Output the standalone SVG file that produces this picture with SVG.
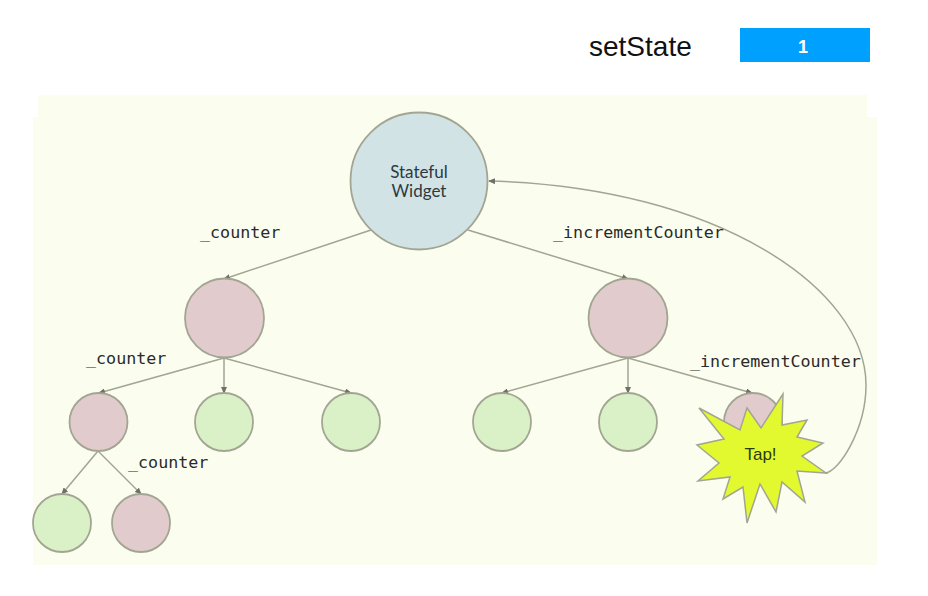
<svg xmlns="http://www.w3.org/2000/svg" width="928" height="596" viewBox="0 0 928 596">
<style>
.n{stroke:#a3a593;stroke-width:1.800}
.r{fill:#e2cbcd}.g{fill:#daf1c8}
.c{fill:none;stroke:#a3a593;stroke-width:1.500}
.m{font-family:"DejaVu Sans Mono","Liberation Mono",monospace;font-size:16.700px;fill:#2a2a2a}
.l{font-family:Lato,"Liberation Sans",sans-serif;fill:#2c3a40;text-anchor:middle}
</style>
<defs><marker id="a" markerWidth="7" markerHeight="6" refX="6" refY="3" orient="auto" markerUnits="userSpaceOnUse"><path d="M0 0L7 3L0 6Z" fill="#6f7166"/></marker></defs>
<rect width="928" height="596" fill="#fff"/>
<path d="M38 95H867V117H877V565H33V117H38Z" fill="#fbfeef"/>
<g id="setstate">
<text x="589" y="56" font-family="Liberation Sans,sans-serif" font-size="28" fill="#111">setState</text>
<rect x="740" y="28" width="130" height="34" fill="#00a0ff"/>
<text x="803" y="53" font-family="Liberation Sans,sans-serif" font-size="18" font-weight="bold" fill="#fff" text-anchor="middle">1</text>
</g>
<g id="connectors">
<path class="c" marker-end="url(#a)" d="M371 230L224 279"/>
<path class="c" marker-end="url(#a)" d="M468 230L628 279"/>
<path class="c" marker-end="url(#a)" d="M224 358L99 393"/>
<path class="c" marker-end="url(#a)" d="M224 358V393"/>
<path class="c" marker-end="url(#a)" d="M224 358L351 393"/>
<path class="c" marker-end="url(#a)" d="M628 358L502 393"/>
<path class="c" marker-end="url(#a)" d="M628 358V393"/>
<path class="c" marker-end="url(#a)" d="M628 358L752 393"/>
<path class="c" marker-end="url(#a)" d="M98 451L62 494"/>
<path class="c" marker-end="url(#a)" d="M98 451L141 494"/>
<path class="c" marker-end="url(#a)" d="M825 473C838 473 866 430 866 385C866 290 720 187 489 181"/>
</g>
<g id="n-root"><circle class="n" cx="419" cy="181" r="68.500" fill="#d2e3e5"/><text class="l" x="419" y="178" font-size="17">Stateful</text><text class="l" x="419" y="197" font-size="17">Widget</text></g>
<g id="n-left"><circle class="n r" cx="224.500" cy="318" r="39.500"/></g>
<g id="n-right"><circle class="n r" cx="628" cy="318" r="39.500"/></g>
<g id="n-l1"><circle class="n r" cx="98.500" cy="422" r="29"/></g>
<g id="n-l2"><circle class="n g" cx="224" cy="422" r="29"/></g>
<g id="n-l3"><circle class="n g" cx="351" cy="422" r="29"/></g>
<g id="n-r1"><circle class="n g" cx="502" cy="422" r="29"/></g>
<g id="n-r2"><circle class="n g" cx="628" cy="422" r="29"/></g>
<g id="n-r3"><circle class="n r" cx="753" cy="422" r="29"/></g>
<g id="n-ll1"><circle class="n g" cx="62" cy="523" r="29"/></g>
<g id="n-ll2"><circle class="n r" cx="141" cy="523" r="29"/></g>
<g id="labels">
<text class="m" x="200" y="238">_counter</text>
<text class="m" x="553" y="238">_incrementCounter</text>
<text class="m" x="86" y="364">_counter</text>
<text class="m" x="128" y="468">_counter</text>
<text class="m" x="690" y="367">_incrementCounter</text>
</g>
<g id="n-tap">
<polygon points="783,394 782,425 807,420 797,437 823,443 802,456 826,473 797,471 805,502 782,482 776,512 760,484 747,523 743,487 723,499 730,477 698,481 719,463 697,445 724,439 699,408 740,430 747,408 761,428" fill="#e2f92f" stroke="#a3a593" stroke-width="1.500"/>
<text x="760.500" y="460" font-family="Liberation Sans,sans-serif" font-size="17" fill="#2b3a10" text-anchor="middle">Tap!</text>
</g>
</svg>
